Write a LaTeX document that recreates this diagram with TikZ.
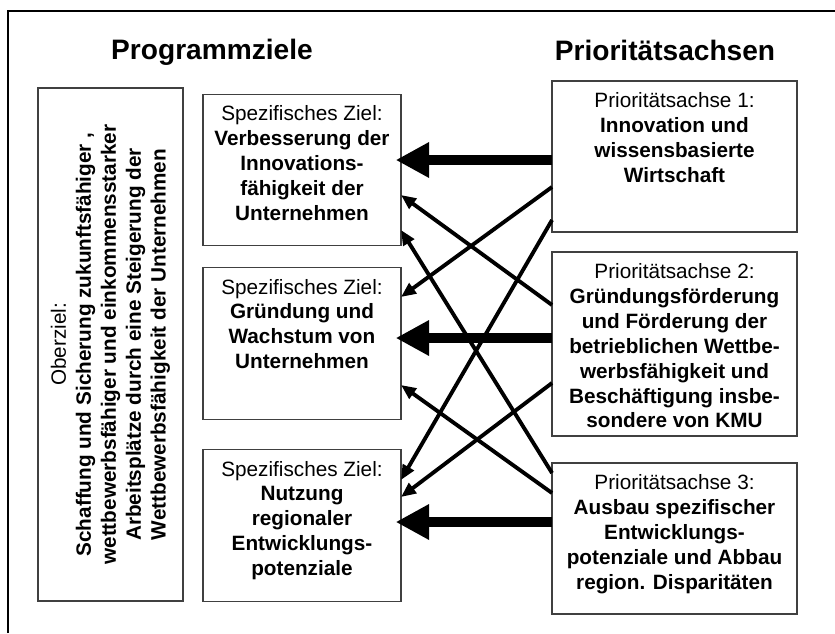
\documentclass[tikz,border=0pt]{standalone}
\usepackage{fontspec}
\setmainfont{Liberation Sans}
\usetikzlibrary{arrows.meta,positioning}

\tikzset{
  box/.style={draw=black!75, line width=0.75pt, inner sep=0pt, outer sep=0pt},
  goalbox/.style={box, minimum width=3.96cm, minimum height=3.03cm},
  axisbox/.style={box, minimum width=4.9cm, minimum height=3.02cm},
  boxtext/.style={align=center, inner sep=0pt, font=\fontsize{11.8}{14.2}\selectfont},
  headline/.style={font=\fontsize{16}{18}\selectfont\bfseries},
  bigarrow/.style={line width=6.2pt, shorten >=-3pt, -{Triangle[length=19pt,width=19pt]}},
  smallarrow/.style={line width=2.2pt, -{Triangle[length=8.5pt,width=7pt]}},
}

\begin{document}
\begin{tikzpicture}[x=0.02cm, y=-0.02cm]
  \useasboundingbox (0,0) rectangle (835,633);
  \draw[line width=1.2pt] (8,633) -- (8,11) -- (835,11);

  \node[headline] (lefthead) at (212,52) {Programmziele};
  \node[headline] (righthead) at (665,50) {Prioritätsachsen};

  % Oberziel
  \node[box, minimum width=2.9cm, minimum height=10.26cm] (ober) at (110.5,344.5) {};
  \node[boxtext, rotate=90] (obertext) at (ober.center) {Oberziel:\\
    \bfseries Schaffung und Sicherung zukunftsfähiger ,\\
    \bfseries wettbewerbsfähiger und einkommensstarker\\
    \bfseries Arbeitsplätze durch eine Steigerung der\\
    \bfseries Wettbewerbsfähigkeit der Unternehmen};

  % spezifische Ziele
  \node[goalbox] (z1) at (302,170) {};
  \node[goalbox] (z2) at (302,343.5) {};
  \node[goalbox] (z3) at (302,525.5) {};
  \node[boxtext, below=6.2pt of z1.north] (z1text) {Spezifisches Ziel:\\
    \bfseries Verbesserung der\\ \bfseries Innovations-\\ \bfseries fähigkeit der\\ \bfseries Unternehmen};
  \node[boxtext, below=6.2pt of z2.north] (z2text) {Spezifisches Ziel:\\
    \bfseries Gründung und\\ \bfseries Wachstum von\\ \bfseries Unternehmen};
  \node[boxtext, below=6.2pt of z3.north] (z3text) {Spezifisches Ziel:\\
    \bfseries Nutzung\\ \bfseries regionaler\\ \bfseries Entwicklungs-\\ \bfseries potenziale};

  % Prioritaetsachsen
  \node[axisbox] (p1) at (674.5,156.5) {};
  \node[axisbox, minimum height=3.68cm] (p2) at (674.5,344) {};
  \node[axisbox] (p3) at (674.5,538.5) {};
  \node[boxtext, below=6.2pt of p1.north] (p1text) {Prioritätsachse 1:\\
    \bfseries Innovation und\\ \bfseries wissensbasierte\\ \bfseries Wirtschaft};
  \node[boxtext, below=6.2pt of p2.north] (p2text) {Prioritätsachse 2:\\
    \bfseries Gründungsförderung\\ \bfseries und Förderung der\\ \bfseries betrieblichen Wettbe-\\
    \bfseries werbsfähigkeit und\\ \bfseries Beschäftigung insbe-\\ \bfseries sondere von KMU};
  \node[boxtext, below=6.2pt of p3.north] (p3text) {Prioritätsachse 3:\\
    \bfseries Ausbau spezifischer\\ \bfseries Entwicklungs-\\ \bfseries potenziale und Abbau\\
    \bfseries region. Disparitäten};

  % Hauptbeitraege
  \draw[bigarrow] (p1.west |- 0,160) -- (z1.east |- 0,160);
  \draw[bigarrow] (p2.west |- 0,338) -- (z2.east |- 0,338);
  \draw[bigarrow] (p3.west |- 0,522) -- (z3.east |- 0,522);

  % Nebenbeitraege
  \draw[smallarrow] (p1.west |- 0,187) -- (z2.east |- 0,297);
  \draw[smallarrow] (p1.west |- 0,220) -- (z3.east |- 0,480);
  \draw[smallarrow] (p2.west |- 0,305) -- (z1.east |- 0,195);
  \draw[smallarrow] (p2.west |- 0,383) -- (z3.east |- 0,497);
  \draw[smallarrow] (p3.west |- 0,473) -- (z1.east |- 0,230);
  \draw[smallarrow] (p3.west |- 0,493) -- (z2.east |- 0,385);
\end{tikzpicture}
\end{document}
